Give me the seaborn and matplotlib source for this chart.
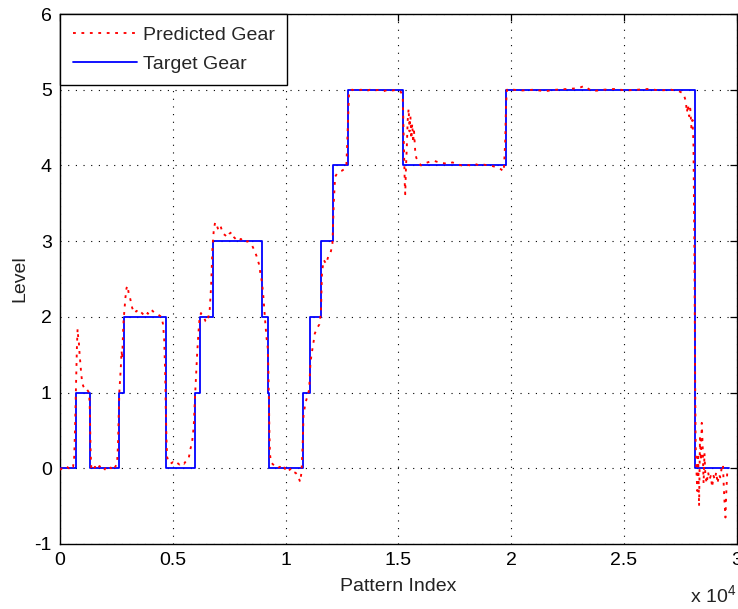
import matplotlib
matplotlib.use("Agg")
import matplotlib.pyplot as plt
import seaborn as sns
import pandas as pd
from matplotlib.lines import Line2D

# ---- Data ----
target_idx = [0, 695, 1330, 2630, 2840, 4700, 6000, 6210, 6770, 8944, 9224, 9282,
              10790, 11086, 11574, 12120, 12770, 15195, 19765, 28140, 29650]
target_gear = [0, 1, 0, 1, 2, 0, 1, 2, 3, 2, 1, 0, 1, 2, 3, 4, 5, 4, 5, 0, 0]

pred_idx = [0, 100, 200, 300, 400, 500, 580, 630, 660, 690, 720, 750, 780, 810, 840, 870, 900,
            940, 990, 1040, 1100, 1160, 1220, 1290, 1320, 1340, 1360, 1390, 1450, 1550, 1650,
            1750, 1850, 1950, 2050, 2150, 2250, 2350, 2450, 2530, 2570, 2600, 2630, 2660, 2700,
            2730, 2760, 2790, 2820, 2860, 2900, 2950, 3000, 3050, 3100, 3200, 3300, 3400, 3500,
            3600, 3700, 3800, 3900, 4000, 4100, 4200, 4300, 4400, 4500, 4570, 4620, 4660, 4690,
            4720, 4750, 4800, 4900, 5000, 5100, 5200, 5300, 5400, 5500, 5600, 5700, 5780, 5860,
            5930, 5980, 6030, 6080, 6130, 6180, 6250, 6330, 6400, 6460, 6520, 6580, 6640, 6700,
            6760, 6820, 6880, 6940, 7020, 7120, 7220, 7320, 7420, 7520, 7620, 7720, 7820, 7920,
            8020, 8120, 8220, 8320, 8420, 8520, 8620, 8720, 8820, 8900, 8960, 9010, 9060, 9110,
            9160, 9210, 9240, 9265, 9285, 9310, 9350, 9450, 9550, 9650, 9750, 9850, 9950, 10050,
            10150, 10250, 10350, 10450, 10550, 10650, 10710, 10760, 10800, 10850, 10900, 10950,
            11000, 11050, 11100, 11150, 11220, 11300, 11400, 11500, 11570, 11620, 11700, 11800,
            11900, 12000, 12080, 12140, 12200, 12300, 12400, 12500, 12600, 12700, 12760, 12820,
            12950, 13150, 13350, 13550, 13750, 13950, 14150, 14350, 14550, 14750, 14950, 15120,
            15200, 15230, 15260, 15290, 15310, 15340, 15380, 15420, 15460, 15500, 15540, 15580,
            15620, 15660, 15700, 15750, 15800, 15900, 16000, 16200, 16400, 16600, 16800, 17000,
            17200, 17400, 17600, 17800, 18000, 18200, 18400, 18600, 18800, 19000, 19200, 19400,
            19550, 19680, 19740, 19780, 19820, 20100, 20500, 21000, 21500, 22000, 22500, 23000,
            23240, 23600, 24100, 24600, 25100, 25600, 26100, 26600, 27100, 27450, 27650, 27750,
            27800, 27850, 27900, 27950, 28000, 28050, 28090, 28130, 28150, 28170, 28190, 28220,
            28260, 28300, 28340, 28380, 28420, 28460, 28500, 28540, 28580, 28620, 28680, 28740,
            28800, 28860, 28920, 28980, 29040, 29100, 29160, 29220, 29280, 29340, 29400, 29430,
            29470, 29510, 29550, 29590, 29650]
pred_val = [-0.02, 0.00, -0.01, 0.02, 0.00, 0.04, 0.02, 0.15, 0.45, 0.85, 1.30, 1.60, 1.84, 1.72,
            1.65, 1.50, 1.40, 1.25, 1.12, 1.08, 1.05, 1.06, 1.03, 1.00, 0.80, 0.50, 0.20, 0.00,
            -0.03, 0.02, -0.02, 0.03, 0.00, -0.03, 0.02, -0.01, 0.01, -0.03, 0.02, 0.06, 0.30,
            0.65, 1.00, 1.15, 1.35, 1.55, 1.45, 1.75, 1.95, 2.10, 2.25, 2.38, 2.41, 2.30, 2.26,
            2.12, 2.05, 2.08, 2.04, 2.06, 2.03, 2.07, 2.04, 2.10, 2.08, 2.05, 2.04, 2.02, 2.00,
            1.90, 1.70, 1.30, 0.80, 0.40, 0.15, 0.10, 0.06, 0.08, 0.05, 0.07, 0.05, 0.08, 0.06,
            0.10, 0.12, 0.25, 0.35, 0.55, 0.90, 1.20, 1.50, 1.75, 1.95, 2.05, 2.02, 1.98, 1.94,
            1.93, 2.00, 2.10, 2.40, 2.90, 3.15, 3.25, 3.22, 3.15, 3.20, 3.10, 3.08, 3.05, 3.10,
            3.12, 3.05, 3.02, 3.00, 3.03, 3.00, 2.98, 3.00, 2.97, 2.94, 2.88, 2.80, 2.70, 2.55,
            2.45, 2.30, 2.10, 1.90, 1.72, 1.60, 1.30, 0.90, 0.50, 0.20, 0.08, 0.05, 0.03, 0.00,
            0.02, -0.02, 0.01, -0.05, -0.03, 0.00, -0.05, -0.06, -0.10, -0.18, -0.05, 0.30, 0.70,
            0.80, 0.88, 0.93, 0.97, 1.05, 1.35, 1.50, 1.62, 1.78, 1.85, 1.90, 2.05, 2.60, 2.75,
            2.70, 2.80, 2.85, 2.95, 3.50, 3.85, 3.90, 3.92, 3.93, 3.95, 4.00, 4.50, 4.98, 5.00,
            4.99, 5.00, 4.98, 5.00, 4.99, 5.00, 4.98, 5.00, 4.99, 5.00, 4.97, 4.90, 4.50, 4.10,
            3.75, 3.62, 3.95, 4.25, 4.60, 4.75, 4.45, 4.65, 4.35, 4.55, 4.30, 4.45, 4.20, 4.10,
            4.05, 4.00, 4.03, 4.05, 4.06, 4.04, 4.03, 4.02, 4.04, 4.02, 4.00, 4.01, 4.00, 4.02,
            4.00, 4.01, 4.00, 3.99, 3.97, 3.95, 3.92, 4.30, 4.80, 5.00, 5.00, 4.99, 5.00, 4.98,
            5.00, 5.01, 5.02, 5.05, 4.98, 5.00, 5.01, 4.99, 5.00, 5.01, 4.99, 5.00, 4.98, 4.95,
            4.85, 4.70, 4.80, 4.65, 4.75, 4.50, 4.60, 4.30, 3.00, 2.00, 1.00, 0.30, 0.00, -0.30,
            0.20, -0.50, 0.40, 0.10, 0.60, 0.30, -0.20, 0.20, -0.10, -0.20, -0.05, -0.15, -0.10,
            -0.25, -0.10, -0.15, -0.05, -0.20, -0.08, -0.12, 0.00, 0.05, -0.20, -0.45, -0.65,
            -0.30, -0.05, 0.00]

x_ticks = [0, 5000, 10000, 15000, 20000, 25000, 30000]
x_tick_labels = ["0", "0.5", "1", "1.5", "2", "2.5", "3"]
y_ticks = [-1, 0, 1, 2, 3, 4, 5, 6]

# ---- Style ----
sns.set_theme(style="white")
plt.rcParams["font.family"] = ["Liberation Sans", "DejaVu Sans"]
plt.rcParams["mathtext.default"] = "regular"
plt.rcParams["axes.unicode_minus"] = False
FS = 14
RED_DASH = (1.5, 3.0)

fig = plt.figure(figsize=(7.38, 6.09), dpi=100)
ax = fig.add_axes([60 / 738, 1 - 544 / 609, (736.5 - 60) / 738, (544 - 14) / 609])

df_t = pd.DataFrame({"idx": target_idx, "gear": target_gear})
df_p = pd.DataFrame({"idx": pred_idx, "gear": pred_val})

sns.lineplot(data=df_t, x="idx", y="gear", ax=ax, estimator=None, sort=False,
             drawstyle="steps-post", color="#0000ff", linewidth=1.3, zorder=3)
sns.lineplot(data=df_p, x="idx", y="gear", ax=ax, estimator=None, sort=False,
             color="#ff0000", linewidth=1.35, dashes=False, zorder=4)
lines = ax.get_lines()
lines[1].set_dashes(RED_DASH)

ax.set_xlim(0, 30000)
ax.set_ylim(-1, 6)
ax.set_xticks(x_ticks)
ax.set_xticklabels(x_tick_labels)
ax.set_yticks(y_ticks)
ax.set_yticklabels([str(v) for v in y_ticks])
ax.tick_params(direction="in", length=5, width=0.9, top=True, right=True,
               labelsize=FS, colors="black", pad=6)
for s in ax.spines.values():
    s.set_color("black")
    s.set_linewidth(1.0)
    s.set_visible(True)
ax.grid(True, color="black", linestyle=(0, (1, 5.9)), linewidth=0.8)
ax.set_axisbelow(True)

ax.set_xlabel("Pattern Index", fontsize=FS, color="#222222", labelpad=6)
ax.set_ylabel("Level", fontsize=FS, color="#222222", labelpad=4)
fig.text(0.998, 0.004, r"x 10$^4$", fontsize=FS, ha="right", va="bottom", color="#222222")

handles = [Line2D([], [], color="#ff0000", linewidth=1.35, dashes=RED_DASH),
           Line2D([], [], color="#0000ff", linewidth=1.3)]
leg = ax.legend(handles, ["Predicted Gear", "Target Gear"], loc="upper left",
                borderaxespad=0, fontsize=FS, fancybox=False, framealpha=1,
                edgecolor="black", handlelength=3.3, handletextpad=0.3,
                borderpad=0.65, labelspacing=0.55)
leg.get_frame().set_linewidth(1.0)

fig.savefig("out.png", dpi=100)
